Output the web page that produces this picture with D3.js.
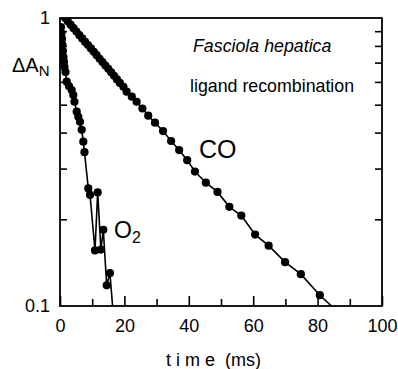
<!DOCTYPE html>
<html>
<head>
<meta charset="utf-8">
<script src="https://cdn.jsdelivr.net/npm/d3@7"></script>
<style>
  body { margin: 0; background: #fff; }
  svg { font-family: "Liberation Sans", Arial, sans-serif; }
</style>
</head>
<body>
<div id="chart"></div>
<script>
// CO recombination trace (time in ms, normalised absorbance)
const coTime = [1.6, 2.4, 3.3, 4.2, 5.1, 6.0, 6.9, 7.8, 8.7, 9.6, 10.5, 11.4, 12.3, 13.2, 14.1, 15.0,
  15.9, 16.8, 17.7, 18.6, 19.7, 20.7, 22.3, 23.8, 25.6, 27.4, 29.5, 32.0, 34.5, 37.0, 39.5, 41.9,
  45.3, 48.9, 52.6, 56.3, 60.6, 64.8, 69.9, 74.8, 80.7, 86.0];
const coValue = [1.0, 0.975, 0.948, 0.922, 0.897, 0.872, 0.849, 0.826, 0.806, 0.784, 0.763, 0.743, 0.722, 0.703, 0.684, 0.666,
  0.648, 0.630, 0.612, 0.595, 0.577, 0.555, 0.533, 0.512, 0.485, 0.458, 0.433, 0.405, 0.374, 0.348, 0.321, 0.293,
  0.268, 0.249, 0.221, 0.206, 0.177, 0.162, 0.142, 0.129, 0.109, 0.096];

// O2 recombination trace
const o2Time = [0.3, 0.47, 0.62, 0.78, 0.93, 1.09, 1.24, 1.4, 1.71, 2.08, 2.8, 3.63, 4.13, 4.5, 5.19, 5.68,
  6.21, 6.74, 7.24, 7.6, 8.79, 9.32, 10.87, 11.7, 12.7, 13.45, 14.5, 15.5, 16.6];
const o2Value = [0.93, 0.887, 0.846, 0.806, 0.768, 0.732, 0.704, 0.676, 0.649, 0.601, 0.58, 0.562, 0.540, 0.512, 0.473, 0.454,
  0.436, 0.409, 0.372, 0.342, 0.256, 0.243, 0.156, 0.248, 0.157, 0.184, 0.118, 0.130, 0.092];

const xMajor = [0, 20, 40, 60, 80, 100];
const xMinor = [10, 30, 50, 70, 90];
const yLabelled = [0.1, 1];
const yMinor = [0.2, 0.3, 0.4, 0.5, 0.6, 0.7, 0.8, 0.9];

const width = 398, height = 369;
const margin = {top: 18, right: 16, bottom: 63, left: 60};
const innerW = width - margin.left - margin.right;
const innerH = height - margin.top - margin.bottom;

const svg = d3.select("#chart").append("svg")
  .attr("width", width).attr("height", height);
const g = svg.append("g").attr("transform", `translate(${margin.left},${margin.top})`);

const x = d3.scaleLinear().domain([0, 100]).range([0, innerW]);
const y = d3.scaleLog().domain([0.1, 1]).range([innerH, 0]);

g.append("clipPath").attr("id", "plot")
  .append("rect").attr("width", innerW).attr("height", innerH);

// axes, ticks pointing inward
const bottomMajor = g.append("g").attr("transform", `translate(0,${innerH})`)
  .call(d3.axisBottom(x).tickValues(xMajor).tickSize(-10).tickPadding(13).tickFormat(d3.format("d")));
const bottomMinor = g.append("g").attr("transform", `translate(0,${innerH})`)
  .call(d3.axisBottom(x).tickValues(xMinor).tickSize(-7).tickFormat(""));
const left = g.append("g")
  .call(d3.axisLeft(y).tickValues(yLabelled).tickSize(0).tickPadding(10).tickFormat(d => d === 1 ? "1" : "0.1"));
const leftMinor = g.append("g")
  .call(d3.axisLeft(y).tickValues(yMinor).tickSize(-7).tickFormat(""));
const rightMinor = g.append("g").attr("transform", `translate(${innerW},0)`)
  .call(d3.axisRight(y).tickValues(yMinor).tickSize(-7).tickFormat(""));

[bottomMajor, bottomMinor, left, leftMinor, rightMinor].forEach(a => {
  a.select(".domain").remove();
  a.selectAll("line").attr("stroke", "#000").attr("stroke-width", 1.6);
  a.selectAll("text").attr("font-size", 18).attr("fill", "#000")
    .attr("font-family", "'Liberation Sans', Arial, sans-serif");
});

g.append("rect").attr("width", innerW).attr("height", innerH)
  .attr("fill", "none").attr("stroke", "#000").attr("stroke-width", 1.8);

// traces
const line = d3.line().x(d => x(d[0])).y(d => y(d[1]));
const coData = coTime.map((t, i) => [t, coValue[i]]);
const o2Data = o2Time.map((t, i) => [t, o2Value[i]]);

const plot = g.append("g").attr("clip-path", "url(#plot)");
[coData, o2Data].forEach(data => {
  plot.append("path").datum(data).attr("d", line)
    .attr("fill", "none").attr("stroke", "#000").attr("stroke-width", 1.6);
  plot.selectAll(null).data(data).enter().append("circle")
    .attr("cx", d => x(d[0])).attr("cy", d => y(d[1])).attr("r", 4.1).attr("fill", "#000");
});

// labels
const yTitle = svg.append("text").attr("x", 12).attr("y", 72).attr("font-size", 20);
yTitle.append("tspan").text("ΔA");
yTitle.append("tspan").attr("font-size", 15).attr("dy", 4).text("N");

const xTitle = svg.append("text").attr("x", 166).attr("y", 366).attr("font-size", 18);
xTitle.append("tspan").attr("letter-spacing", "5px").text("time");
xTitle.append("tspan").attr("dx", 5).text("(ms)");

svg.append("text").attr("x", 193).attr("y", 52).attr("font-size", 17.8)
  .attr("font-style", "italic").text("Fasciola hepatica");
svg.append("text").attr("x", 190).attr("y", 92).attr("font-size", 17.8)
  .text("ligand recombination");

svg.append("text").attr("x", 199).attr("y", 158).attr("font-size", 25).text("CO");
const o2Label = svg.append("text").attr("x", 114).attr("y", 238).attr("font-size", 23);
o2Label.append("tspan").text("O");
o2Label.append("tspan").attr("font-size", 16).attr("dy", 5).text("2");
</script>
</body>
</html>
